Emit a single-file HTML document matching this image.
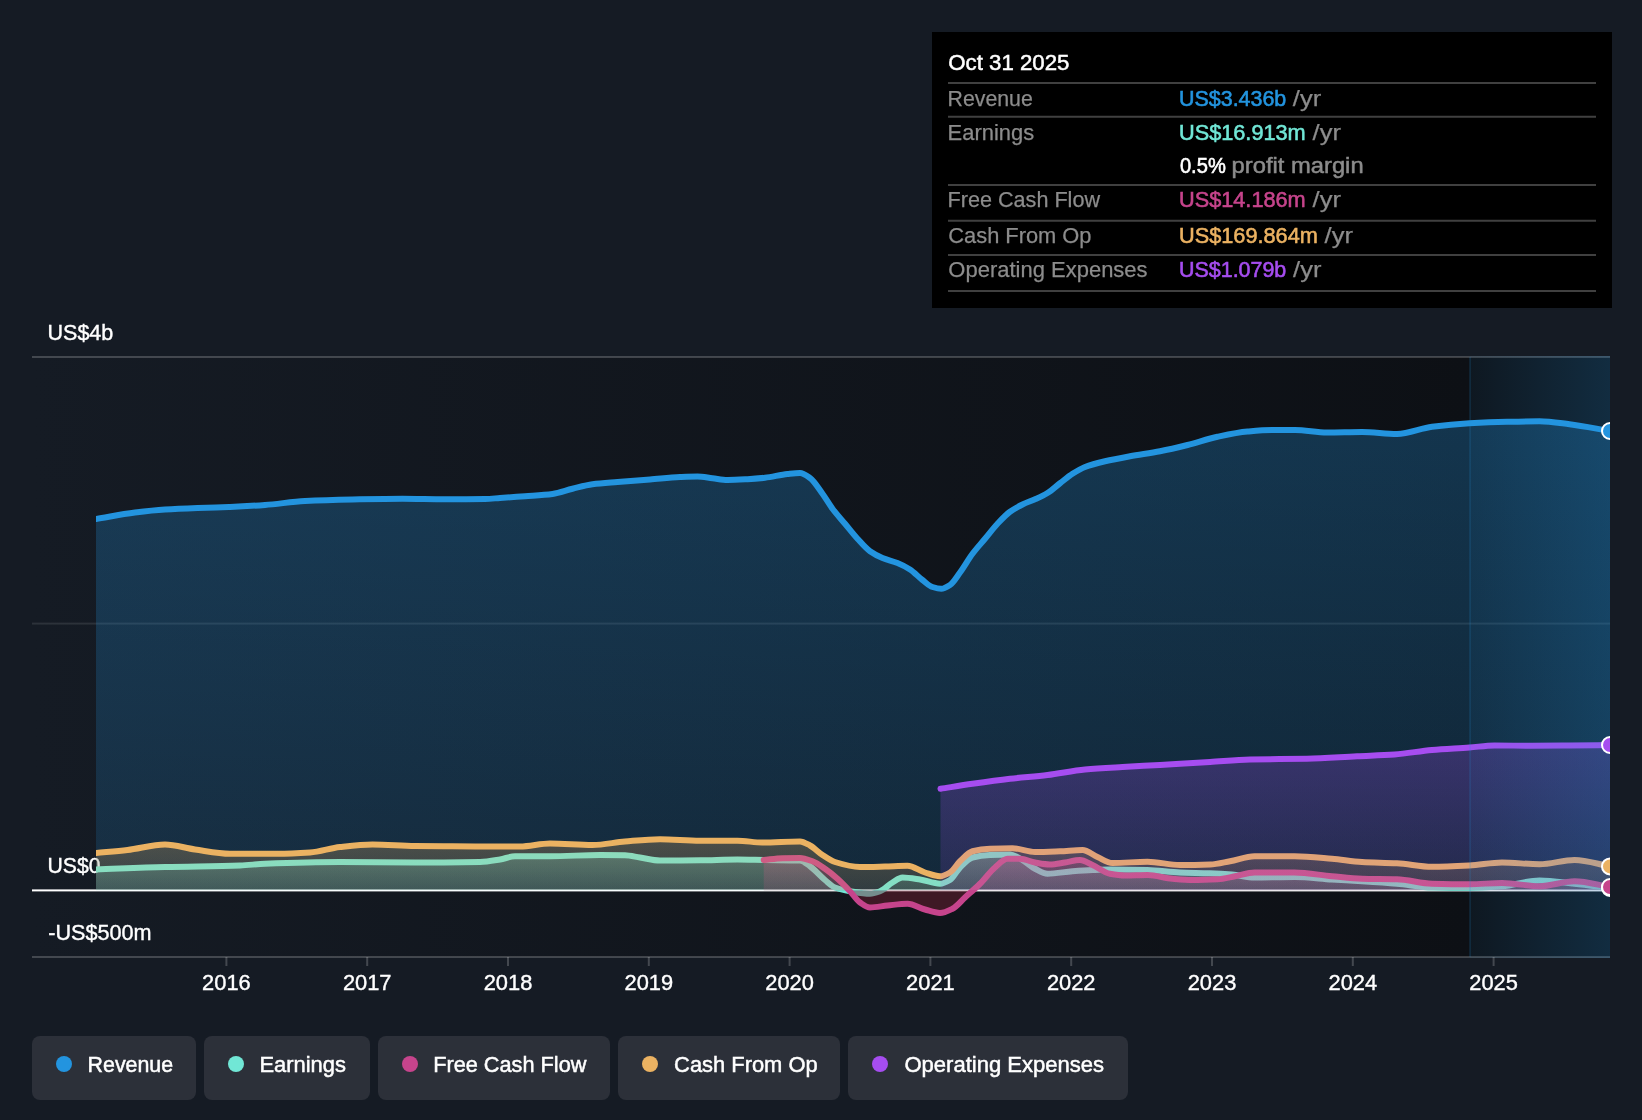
<!DOCTYPE html>
<html lang="en"><head><meta charset="utf-8"><title>Earnings and Revenue History</title>
<style>html,body{margin:0;padding:0;background:#151b24;}body{width:1642px;height:1120px;overflow:hidden}svg{transform:translateZ(0);will-change:transform}svg text{font-family:"Liberation Sans",sans-serif}</style>
</head><body>
<svg width="1642" height="1120" viewBox="0 0 1642 1120" style="display:block">
<defs>
<linearGradient id="bgd" x1="32" x2="1470" y1="0" y2="0" gradientUnits="userSpaceOnUse"><stop offset="0" stop-color="#151b24"/><stop offset="1" stop-color="#0d1015"/></linearGradient>
<linearGradient id="hl" x1="1470" x2="1610" y1="0" y2="0" gradientUnits="userSpaceOnUse"><stop offset="0" stop-color="#2394DF" stop-opacity="0.06"/><stop offset="1" stop-color="#2394DF" stop-opacity="0.215"/></linearGradient>
<linearGradient id="grev" x1="0" x2="0" y1="420" y2="890" gradientUnits="userSpaceOnUse"><stop offset="0" stop-color="#2394DF" stop-opacity="0.28"/><stop offset="1" stop-color="#2394DF" stop-opacity="0.16"/></linearGradient>
<linearGradient id="gopx" x1="0" x2="0" y1="745" y2="890" gradientUnits="userSpaceOnUse"><stop offset="0" stop-color="#A64DF0" stop-opacity="0.26"/><stop offset="1" stop-color="#A64DF0" stop-opacity="0.12"/></linearGradient>
<linearGradient id="gcfo" x1="0" x2="0" y1="840" y2="890" gradientUnits="userSpaceOnUse"><stop offset="0" stop-color="#EBB262" stop-opacity="0.26"/><stop offset="1" stop-color="#EBB262" stop-opacity="0.14"/></linearGradient>
<linearGradient id="gern" x1="0" x2="0" y1="855" y2="890" gradientUnits="userSpaceOnUse"><stop offset="0" stop-color="#71E7D6" stop-opacity="0.30"/><stop offset="1" stop-color="#71E7D6" stop-opacity="0.16"/></linearGradient>
<linearGradient id="gfcf" x1="0" x2="0" y1="858" y2="890" gradientUnits="userSpaceOnUse"><stop offset="0" stop-color="#C6448C" stop-opacity="0.30"/><stop offset="1" stop-color="#C6448C" stop-opacity="0.16"/></linearGradient>
<clipPath id="plot"><rect x="96" y="340" width="1514" height="640"/></clipPath>
<clipPath id="above"><rect x="32" y="340" width="1578" height="550.3"/></clipPath>
<clipPath id="below"><rect x="32" y="890.3" width="1578" height="80"/></clipPath>
</defs>
<rect width="1642" height="1120" fill="#151b24"/>
<g>
<rect x="32" y="357" width="1578" height="600" fill="url(#bgd)"/>
<rect x="32" y="356" width="1578" height="2" fill="#ffffff" fill-opacity="0.2"/>
<rect x="32" y="622.6" width="1578" height="2" fill="#ffffff" fill-opacity="0.1"/>
<rect x="32" y="956" width="1578" height="2" fill="#ffffff" fill-opacity="0.2"/>
<g font-size="22.7">
<text x="47.50" y="340" fill="#fff" textLength="65.8" lengthAdjust="spacingAndGlyphs" stroke="#fff" stroke-width="0.4">US$4b</text>
<text x="47.50" y="872.8" fill="#fff" textLength="53.0" lengthAdjust="spacingAndGlyphs" stroke="#fff" stroke-width="0.4">US$0</text>
<text x="48.20" y="940" fill="#fff" textLength="103.4" lengthAdjust="spacingAndGlyphs" stroke="#fff" stroke-width="0.4">-US$500m</text>
</g>
<rect x="32" y="889.4" width="1578" height="2" fill="#fff"/>
<g clip-path="url(#plot)" fill="none" stroke-width="6" stroke-linejoin="round" stroke-linecap="round">
<path d="M96.00,519.00C109.00,516.83 122.00,514.11 135.00,512.50C145.00,511.26 155.00,510.13 165.00,509.50C175.83,508.81 186.67,508.40 197.50,508.00C208.33,507.60 219.17,507.43 230.00,507.00C241.67,506.54 253.33,505.84 265.00,505.00C278.33,504.04 291.67,501.65 305.00,501.00C320.83,500.23 336.67,499.82 352.50,499.50C369.17,499.16 385.83,498.75 402.50,498.75C416.67,498.75 430.83,499.25 445.00,499.25C458.33,499.25 471.67,499.17 485.00,499.00C490.00,498.93 495.00,498.34 500.00,498.00C508.33,497.43 516.67,496.88 525.00,496.25C534.17,495.56 543.33,495.18 552.50,494.00C559.17,493.14 565.83,490.37 572.50,488.75C579.17,487.13 585.83,485.12 592.50,484.25C600.83,483.16 609.17,482.69 617.50,482.00C628.33,481.10 639.17,480.37 650.00,479.50C660.00,478.70 670.00,477.41 680.00,477.00C685.83,476.76 691.67,476.50 697.50,476.50C702.50,476.50 707.50,477.67 712.50,478.25C717.50,478.83 722.50,480.00 727.50,480.00C734.17,480.00 740.83,479.60 747.50,479.25C753.33,478.94 759.17,478.40 765.00,477.75C772.50,476.91 780.00,474.78 787.50,474.00C791.67,473.56 795.83,473.00 800.00,473.00C803.33,473.00 806.67,475.65 810.00,478.00C814.17,480.94 818.33,488.03 822.50,493.75C825.83,498.33 829.17,504.29 832.50,508.75C836.67,514.33 840.83,518.75 845.00,523.75C849.17,528.75 853.33,534.20 857.50,538.75C861.67,543.30 865.83,548.33 870.00,551.25C874.17,554.17 878.33,556.27 882.50,558.00C887.50,560.08 892.50,560.96 897.50,563.00C901.67,564.70 905.83,566.82 910.00,569.50C914.17,572.18 918.33,576.83 922.50,580.00C925.83,582.54 929.17,585.98 932.50,587.00C935.42,587.90 938.33,588.75 941.25,588.75C944.17,588.75 947.08,586.84 950.00,585.00C953.33,582.90 956.67,577.03 960.00,572.50C964.17,566.84 968.33,559.31 972.50,553.75C976.67,548.19 980.83,543.75 985.00,538.75C989.17,533.75 993.33,528.19 997.50,523.75C1001.67,519.31 1005.83,514.76 1010.00,511.75C1014.17,508.74 1018.33,506.53 1022.50,504.50C1026.67,502.47 1030.83,501.15 1035.00,499.25C1039.17,497.35 1043.33,495.54 1047.50,493.00C1051.67,490.46 1055.83,486.46 1060.00,483.25C1064.17,480.04 1068.33,476.38 1072.50,473.75C1076.67,471.12 1080.83,468.60 1085.00,467.00C1091.67,464.44 1098.33,462.83 1105.00,461.25C1113.33,459.27 1121.67,457.77 1130.00,456.25C1140.00,454.43 1150.00,453.18 1160.00,451.25C1169.17,449.48 1178.33,447.28 1187.50,445.00C1197.50,442.51 1207.50,438.89 1217.50,436.75C1227.50,434.61 1237.50,432.38 1247.50,431.50C1255.83,430.77 1264.17,430.00 1272.50,430.00C1280.00,430.00 1287.50,430.00 1295.00,430.00C1305.67,430.00 1316.33,432.50 1327.00,432.50C1338.67,432.50 1350.33,432.00 1362.00,432.00C1373.67,432.00 1385.33,434.00 1397.00,434.00C1408.67,434.00 1420.33,428.26 1432.00,426.75C1444.50,425.13 1457.00,423.95 1469.50,423.25C1482.00,422.55 1494.50,422.02 1507.00,421.75C1517.83,421.51 1528.67,421.25 1539.50,421.25C1549.50,421.25 1559.50,423.02 1569.50,424.25C1583.00,425.92 1596.50,428.75 1610.00,431.00L1610.00,890.3L96.00,890.3Z" fill="url(#grev)" stroke="none" clip-path="url(#above)"/>
<path d="M96.00,519.00C109.00,516.83 122.00,514.11 135.00,512.50C145.00,511.26 155.00,510.13 165.00,509.50C175.83,508.81 186.67,508.40 197.50,508.00C208.33,507.60 219.17,507.43 230.00,507.00C241.67,506.54 253.33,505.84 265.00,505.00C278.33,504.04 291.67,501.65 305.00,501.00C320.83,500.23 336.67,499.82 352.50,499.50C369.17,499.16 385.83,498.75 402.50,498.75C416.67,498.75 430.83,499.25 445.00,499.25C458.33,499.25 471.67,499.17 485.00,499.00C490.00,498.93 495.00,498.34 500.00,498.00C508.33,497.43 516.67,496.88 525.00,496.25C534.17,495.56 543.33,495.18 552.50,494.00C559.17,493.14 565.83,490.37 572.50,488.75C579.17,487.13 585.83,485.12 592.50,484.25C600.83,483.16 609.17,482.69 617.50,482.00C628.33,481.10 639.17,480.37 650.00,479.50C660.00,478.70 670.00,477.41 680.00,477.00C685.83,476.76 691.67,476.50 697.50,476.50C702.50,476.50 707.50,477.67 712.50,478.25C717.50,478.83 722.50,480.00 727.50,480.00C734.17,480.00 740.83,479.60 747.50,479.25C753.33,478.94 759.17,478.40 765.00,477.75C772.50,476.91 780.00,474.78 787.50,474.00C791.67,473.56 795.83,473.00 800.00,473.00C803.33,473.00 806.67,475.65 810.00,478.00C814.17,480.94 818.33,488.03 822.50,493.75C825.83,498.33 829.17,504.29 832.50,508.75C836.67,514.33 840.83,518.75 845.00,523.75C849.17,528.75 853.33,534.20 857.50,538.75C861.67,543.30 865.83,548.33 870.00,551.25C874.17,554.17 878.33,556.27 882.50,558.00C887.50,560.08 892.50,560.96 897.50,563.00C901.67,564.70 905.83,566.82 910.00,569.50C914.17,572.18 918.33,576.83 922.50,580.00C925.83,582.54 929.17,585.98 932.50,587.00C935.42,587.90 938.33,588.75 941.25,588.75C944.17,588.75 947.08,586.84 950.00,585.00C953.33,582.90 956.67,577.03 960.00,572.50C964.17,566.84 968.33,559.31 972.50,553.75C976.67,548.19 980.83,543.75 985.00,538.75C989.17,533.75 993.33,528.19 997.50,523.75C1001.67,519.31 1005.83,514.76 1010.00,511.75C1014.17,508.74 1018.33,506.53 1022.50,504.50C1026.67,502.47 1030.83,501.15 1035.00,499.25C1039.17,497.35 1043.33,495.54 1047.50,493.00C1051.67,490.46 1055.83,486.46 1060.00,483.25C1064.17,480.04 1068.33,476.38 1072.50,473.75C1076.67,471.12 1080.83,468.60 1085.00,467.00C1091.67,464.44 1098.33,462.83 1105.00,461.25C1113.33,459.27 1121.67,457.77 1130.00,456.25C1140.00,454.43 1150.00,453.18 1160.00,451.25C1169.17,449.48 1178.33,447.28 1187.50,445.00C1197.50,442.51 1207.50,438.89 1217.50,436.75C1227.50,434.61 1237.50,432.38 1247.50,431.50C1255.83,430.77 1264.17,430.00 1272.50,430.00C1280.00,430.00 1287.50,430.00 1295.00,430.00C1305.67,430.00 1316.33,432.50 1327.00,432.50C1338.67,432.50 1350.33,432.00 1362.00,432.00C1373.67,432.00 1385.33,434.00 1397.00,434.00C1408.67,434.00 1420.33,428.26 1432.00,426.75C1444.50,425.13 1457.00,423.95 1469.50,423.25C1482.00,422.55 1494.50,422.02 1507.00,421.75C1517.83,421.51 1528.67,421.25 1539.50,421.25C1549.50,421.25 1559.50,423.02 1569.50,424.25C1583.00,425.92 1596.50,428.75 1610.00,431.00" stroke="#2394DF"/>
<path d="M96.00,869.50C119.00,868.67 142.00,867.60 165.00,867.00C190.00,866.35 215.00,866.36 240.00,865.50C248.33,865.21 256.67,864.07 265.00,863.75C290.00,862.80 315.00,862.00 340.00,862.00C365.00,862.00 390.00,862.50 415.00,862.50C436.67,862.50 458.33,862.37 480.00,862.00C486.67,861.89 493.33,860.57 500.00,859.50C505.00,858.70 510.00,856.25 515.00,856.25C526.67,856.25 538.33,856.25 550.00,856.25C566.67,856.25 583.33,855.00 600.00,855.00C608.33,855.00 616.67,855.08 625.00,855.25C630.00,855.35 635.00,856.75 640.00,857.50C646.67,858.50 653.33,860.50 660.00,860.50C673.33,860.50 686.67,860.38 700.00,860.25C712.50,860.13 725.00,859.50 737.50,859.50C746.67,859.50 755.83,859.85 765.00,860.00C776.67,860.19 788.33,860.11 800.00,860.50C803.33,860.61 806.67,863.93 810.00,866.25C815.00,869.73 820.00,875.90 825.00,880.00C828.33,882.73 831.67,886.21 835.00,887.50C840.00,889.44 845.00,890.40 850.00,891.25C856.67,892.38 863.33,893.75 870.00,893.75C873.33,893.75 876.67,892.46 880.00,891.25C884.17,889.74 888.33,884.92 892.50,882.50C895.83,880.57 899.17,877.50 902.50,877.50C908.33,877.50 914.17,878.64 920.00,879.50C926.67,880.48 933.33,883.75 940.00,883.75C943.33,883.75 946.67,881.92 950.00,880.00C953.33,878.08 956.67,870.78 960.00,867.50C964.17,863.40 968.33,858.55 972.50,857.50C978.33,856.03 984.17,855.25 990.00,855.00C996.67,854.71 1003.33,854.50 1010.00,854.50C1014.17,854.50 1018.33,857.75 1022.50,860.00C1026.67,862.25 1030.83,866.63 1035.00,868.75C1039.17,870.87 1043.33,873.75 1047.50,873.75C1055.83,873.75 1064.17,871.89 1072.50,871.25C1079.17,870.74 1085.83,870.26 1092.50,870.00C1098.33,869.77 1104.17,869.50 1110.00,869.50C1122.50,869.50 1135.00,869.71 1147.50,870.00C1158.33,870.25 1169.17,872.09 1180.00,872.50C1190.00,872.87 1200.00,872.90 1210.00,873.25C1217.33,873.51 1224.67,873.92 1232.00,874.50C1239.50,875.10 1247.00,877.50 1254.50,877.50C1267.83,877.50 1281.17,877.00 1294.50,877.00C1307.00,877.00 1319.50,878.72 1332.00,879.50C1342.00,880.12 1352.00,880.61 1362.00,881.25C1373.67,882.00 1385.33,882.75 1397.00,883.75C1408.67,884.75 1420.33,887.22 1432.00,887.50C1444.50,887.80 1457.00,888.00 1469.50,888.00C1480.33,888.00 1491.17,887.10 1502.00,886.25C1514.50,885.26 1527.00,880.50 1539.50,880.50C1551.17,880.50 1562.83,882.53 1574.50,883.75C1586.33,884.99 1598.17,886.58 1610.00,888.00L1610.00,890.3L96.00,890.3Z" fill="url(#gern)" stroke="none" clip-path="url(#above)"/>
<path d="M96.00,869.50C119.00,868.67 142.00,867.60 165.00,867.00C190.00,866.35 215.00,866.36 240.00,865.50C248.33,865.21 256.67,864.07 265.00,863.75C290.00,862.80 315.00,862.00 340.00,862.00C365.00,862.00 390.00,862.50 415.00,862.50C436.67,862.50 458.33,862.37 480.00,862.00C486.67,861.89 493.33,860.57 500.00,859.50C505.00,858.70 510.00,856.25 515.00,856.25C526.67,856.25 538.33,856.25 550.00,856.25C566.67,856.25 583.33,855.00 600.00,855.00C608.33,855.00 616.67,855.08 625.00,855.25C630.00,855.35 635.00,856.75 640.00,857.50C646.67,858.50 653.33,860.50 660.00,860.50C673.33,860.50 686.67,860.38 700.00,860.25C712.50,860.13 725.00,859.50 737.50,859.50C746.67,859.50 755.83,859.85 765.00,860.00C776.67,860.19 788.33,860.11 800.00,860.50C803.33,860.61 806.67,863.93 810.00,866.25C815.00,869.73 820.00,875.90 825.00,880.00C828.33,882.73 831.67,886.21 835.00,887.50C840.00,889.44 845.00,890.40 850.00,891.25C856.67,892.38 863.33,893.75 870.00,893.75C873.33,893.75 876.67,892.46 880.00,891.25C884.17,889.74 888.33,884.92 892.50,882.50C895.83,880.57 899.17,877.50 902.50,877.50C908.33,877.50 914.17,878.64 920.00,879.50C926.67,880.48 933.33,883.75 940.00,883.75C943.33,883.75 946.67,881.92 950.00,880.00C953.33,878.08 956.67,870.78 960.00,867.50C964.17,863.40 968.33,858.55 972.50,857.50C978.33,856.03 984.17,855.25 990.00,855.00C996.67,854.71 1003.33,854.50 1010.00,854.50C1014.17,854.50 1018.33,857.75 1022.50,860.00C1026.67,862.25 1030.83,866.63 1035.00,868.75C1039.17,870.87 1043.33,873.75 1047.50,873.75C1055.83,873.75 1064.17,871.89 1072.50,871.25C1079.17,870.74 1085.83,870.26 1092.50,870.00C1098.33,869.77 1104.17,869.50 1110.00,869.50C1122.50,869.50 1135.00,869.71 1147.50,870.00C1158.33,870.25 1169.17,872.09 1180.00,872.50C1190.00,872.87 1200.00,872.90 1210.00,873.25C1217.33,873.51 1224.67,873.92 1232.00,874.50C1239.50,875.10 1247.00,877.50 1254.50,877.50C1267.83,877.50 1281.17,877.00 1294.50,877.00C1307.00,877.00 1319.50,878.72 1332.00,879.50C1342.00,880.12 1352.00,880.61 1362.00,881.25C1373.67,882.00 1385.33,882.75 1397.00,883.75C1408.67,884.75 1420.33,887.22 1432.00,887.50C1444.50,887.80 1457.00,888.00 1469.50,888.00C1480.33,888.00 1491.17,887.10 1502.00,886.25C1514.50,885.26 1527.00,880.50 1539.50,880.50C1551.17,880.50 1562.83,882.53 1574.50,883.75C1586.33,884.99 1598.17,886.58 1610.00,888.00L1610.00,890.3L96.00,890.3Z" fill="rgba(113,231,214,0.2)" stroke="none" clip-path="url(#below)"/>
<path d="M96.00,869.50C119.00,868.67 142.00,867.60 165.00,867.00C190.00,866.35 215.00,866.36 240.00,865.50C248.33,865.21 256.67,864.07 265.00,863.75C290.00,862.80 315.00,862.00 340.00,862.00C365.00,862.00 390.00,862.50 415.00,862.50C436.67,862.50 458.33,862.37 480.00,862.00C486.67,861.89 493.33,860.57 500.00,859.50C505.00,858.70 510.00,856.25 515.00,856.25C526.67,856.25 538.33,856.25 550.00,856.25C566.67,856.25 583.33,855.00 600.00,855.00C608.33,855.00 616.67,855.08 625.00,855.25C630.00,855.35 635.00,856.75 640.00,857.50C646.67,858.50 653.33,860.50 660.00,860.50C673.33,860.50 686.67,860.38 700.00,860.25C712.50,860.13 725.00,859.50 737.50,859.50C746.67,859.50 755.83,859.85 765.00,860.00C776.67,860.19 788.33,860.11 800.00,860.50C803.33,860.61 806.67,863.93 810.00,866.25C815.00,869.73 820.00,875.90 825.00,880.00C828.33,882.73 831.67,886.21 835.00,887.50C840.00,889.44 845.00,890.40 850.00,891.25C856.67,892.38 863.33,893.75 870.00,893.75C873.33,893.75 876.67,892.46 880.00,891.25C884.17,889.74 888.33,884.92 892.50,882.50C895.83,880.57 899.17,877.50 902.50,877.50C908.33,877.50 914.17,878.64 920.00,879.50C926.67,880.48 933.33,883.75 940.00,883.75C943.33,883.75 946.67,881.92 950.00,880.00C953.33,878.08 956.67,870.78 960.00,867.50C964.17,863.40 968.33,858.55 972.50,857.50C978.33,856.03 984.17,855.25 990.00,855.00C996.67,854.71 1003.33,854.50 1010.00,854.50C1014.17,854.50 1018.33,857.75 1022.50,860.00C1026.67,862.25 1030.83,866.63 1035.00,868.75C1039.17,870.87 1043.33,873.75 1047.50,873.75C1055.83,873.75 1064.17,871.89 1072.50,871.25C1079.17,870.74 1085.83,870.26 1092.50,870.00C1098.33,869.77 1104.17,869.50 1110.00,869.50C1122.50,869.50 1135.00,869.71 1147.50,870.00C1158.33,870.25 1169.17,872.09 1180.00,872.50C1190.00,872.87 1200.00,872.90 1210.00,873.25C1217.33,873.51 1224.67,873.92 1232.00,874.50C1239.50,875.10 1247.00,877.50 1254.50,877.50C1267.83,877.50 1281.17,877.00 1294.50,877.00C1307.00,877.00 1319.50,878.72 1332.00,879.50C1342.00,880.12 1352.00,880.61 1362.00,881.25C1373.67,882.00 1385.33,882.75 1397.00,883.75C1408.67,884.75 1420.33,887.22 1432.00,887.50C1444.50,887.80 1457.00,888.00 1469.50,888.00C1480.33,888.00 1491.17,887.10 1502.00,886.25C1514.50,885.26 1527.00,880.50 1539.50,880.50C1551.17,880.50 1562.83,882.53 1574.50,883.75C1586.33,884.99 1598.17,886.58 1610.00,888.00" stroke="#71E7D6"/>
<path d="M763.75,860.00C770.00,859.42 776.25,858.40 782.50,858.25C788.33,858.11 794.17,858.00 800.00,858.00C804.17,858.00 808.33,859.74 812.50,861.25C816.67,862.76 820.83,865.89 825.00,868.75C829.17,871.61 833.33,875.05 837.50,878.75C841.67,882.45 845.83,886.83 850.00,891.25C853.33,894.79 856.67,900.19 860.00,902.50C863.33,904.81 866.67,907.50 870.00,907.50C875.83,907.50 881.67,906.08 887.50,905.50C894.17,904.84 900.83,903.75 907.50,903.75C913.33,903.75 919.17,907.92 925.00,909.50C930.00,910.86 935.00,913.00 940.00,913.00C944.17,913.00 948.33,910.81 952.50,908.75C956.67,906.69 960.83,901.28 965.00,897.50C970.00,892.96 975.00,888.72 980.00,883.75C985.00,878.78 990.00,871.72 995.00,867.50C999.17,863.98 1003.33,858.75 1007.50,858.75C1011.67,858.75 1015.83,858.75 1020.00,858.75C1025.00,858.75 1030.00,861.63 1035.00,862.50C1040.00,863.37 1045.00,864.50 1050.00,864.50C1055.00,864.50 1060.00,863.24 1065.00,862.50C1070.00,861.76 1075.00,860.00 1080.00,860.00C1084.17,860.00 1088.33,863.16 1092.50,865.00C1098.33,867.58 1104.17,872.66 1110.00,873.75C1115.00,874.68 1120.00,875.50 1125.00,875.50C1132.50,875.50 1140.00,875.00 1147.50,875.00C1155.83,875.00 1164.17,878.03 1172.50,878.75C1179.17,879.33 1185.83,880.00 1192.50,880.00C1200.83,880.00 1209.17,879.69 1217.50,879.25C1223.33,878.94 1229.17,877.31 1235.00,876.25C1241.50,875.07 1248.00,872.50 1254.50,872.50C1267.83,872.50 1281.17,872.50 1294.50,872.50C1307.00,872.50 1319.50,875.12 1332.00,876.25C1342.00,877.16 1352.00,878.50 1362.00,878.75C1373.67,879.04 1385.33,878.95 1397.00,879.25C1408.67,879.55 1420.33,883.47 1432.00,883.75C1444.50,884.05 1457.00,884.25 1469.50,884.25C1480.33,884.25 1491.17,883.00 1502.00,883.00C1514.50,883.00 1527.00,886.25 1539.50,886.25C1551.17,886.25 1562.83,881.25 1574.50,881.25C1586.33,881.25 1598.17,885.08 1610.00,887.00L1610.00,890.3L763.75,890.3Z" fill="url(#gfcf)" stroke="none" clip-path="url(#above)"/>
<path d="M763.75,860.00C770.00,859.42 776.25,858.40 782.50,858.25C788.33,858.11 794.17,858.00 800.00,858.00C804.17,858.00 808.33,859.74 812.50,861.25C816.67,862.76 820.83,865.89 825.00,868.75C829.17,871.61 833.33,875.05 837.50,878.75C841.67,882.45 845.83,886.83 850.00,891.25C853.33,894.79 856.67,900.19 860.00,902.50C863.33,904.81 866.67,907.50 870.00,907.50C875.83,907.50 881.67,906.08 887.50,905.50C894.17,904.84 900.83,903.75 907.50,903.75C913.33,903.75 919.17,907.92 925.00,909.50C930.00,910.86 935.00,913.00 940.00,913.00C944.17,913.00 948.33,910.81 952.50,908.75C956.67,906.69 960.83,901.28 965.00,897.50C970.00,892.96 975.00,888.72 980.00,883.75C985.00,878.78 990.00,871.72 995.00,867.50C999.17,863.98 1003.33,858.75 1007.50,858.75C1011.67,858.75 1015.83,858.75 1020.00,858.75C1025.00,858.75 1030.00,861.63 1035.00,862.50C1040.00,863.37 1045.00,864.50 1050.00,864.50C1055.00,864.50 1060.00,863.24 1065.00,862.50C1070.00,861.76 1075.00,860.00 1080.00,860.00C1084.17,860.00 1088.33,863.16 1092.50,865.00C1098.33,867.58 1104.17,872.66 1110.00,873.75C1115.00,874.68 1120.00,875.50 1125.00,875.50C1132.50,875.50 1140.00,875.00 1147.50,875.00C1155.83,875.00 1164.17,878.03 1172.50,878.75C1179.17,879.33 1185.83,880.00 1192.50,880.00C1200.83,880.00 1209.17,879.69 1217.50,879.25C1223.33,878.94 1229.17,877.31 1235.00,876.25C1241.50,875.07 1248.00,872.50 1254.50,872.50C1267.83,872.50 1281.17,872.50 1294.50,872.50C1307.00,872.50 1319.50,875.12 1332.00,876.25C1342.00,877.16 1352.00,878.50 1362.00,878.75C1373.67,879.04 1385.33,878.95 1397.00,879.25C1408.67,879.55 1420.33,883.47 1432.00,883.75C1444.50,884.05 1457.00,884.25 1469.50,884.25C1480.33,884.25 1491.17,883.00 1502.00,883.00C1514.50,883.00 1527.00,886.25 1539.50,886.25C1551.17,886.25 1562.83,881.25 1574.50,881.25C1586.33,881.25 1598.17,885.08 1610.00,887.00L1610.00,890.3L763.75,890.3Z" fill="rgba(120,30,50,0.45)" stroke="none" clip-path="url(#below)"/>
<path d="M763.75,860.00C770.00,859.42 776.25,858.40 782.50,858.25C788.33,858.11 794.17,858.00 800.00,858.00C804.17,858.00 808.33,859.74 812.50,861.25C816.67,862.76 820.83,865.89 825.00,868.75C829.17,871.61 833.33,875.05 837.50,878.75C841.67,882.45 845.83,886.83 850.00,891.25C853.33,894.79 856.67,900.19 860.00,902.50C863.33,904.81 866.67,907.50 870.00,907.50C875.83,907.50 881.67,906.08 887.50,905.50C894.17,904.84 900.83,903.75 907.50,903.75C913.33,903.75 919.17,907.92 925.00,909.50C930.00,910.86 935.00,913.00 940.00,913.00C944.17,913.00 948.33,910.81 952.50,908.75C956.67,906.69 960.83,901.28 965.00,897.50C970.00,892.96 975.00,888.72 980.00,883.75C985.00,878.78 990.00,871.72 995.00,867.50C999.17,863.98 1003.33,858.75 1007.50,858.75C1011.67,858.75 1015.83,858.75 1020.00,858.75C1025.00,858.75 1030.00,861.63 1035.00,862.50C1040.00,863.37 1045.00,864.50 1050.00,864.50C1055.00,864.50 1060.00,863.24 1065.00,862.50C1070.00,861.76 1075.00,860.00 1080.00,860.00C1084.17,860.00 1088.33,863.16 1092.50,865.00C1098.33,867.58 1104.17,872.66 1110.00,873.75C1115.00,874.68 1120.00,875.50 1125.00,875.50C1132.50,875.50 1140.00,875.00 1147.50,875.00C1155.83,875.00 1164.17,878.03 1172.50,878.75C1179.17,879.33 1185.83,880.00 1192.50,880.00C1200.83,880.00 1209.17,879.69 1217.50,879.25C1223.33,878.94 1229.17,877.31 1235.00,876.25C1241.50,875.07 1248.00,872.50 1254.50,872.50C1267.83,872.50 1281.17,872.50 1294.50,872.50C1307.00,872.50 1319.50,875.12 1332.00,876.25C1342.00,877.16 1352.00,878.50 1362.00,878.75C1373.67,879.04 1385.33,878.95 1397.00,879.25C1408.67,879.55 1420.33,883.47 1432.00,883.75C1444.50,884.05 1457.00,884.25 1469.50,884.25C1480.33,884.25 1491.17,883.00 1502.00,883.00C1514.50,883.00 1527.00,886.25 1539.50,886.25C1551.17,886.25 1562.83,881.25 1574.50,881.25C1586.33,881.25 1598.17,885.08 1610.00,887.00" stroke="#C6448C"/>
<path d="M96.00,853.00C106.50,852.00 117.00,851.21 127.50,850.00C140.00,848.57 152.50,844.50 165.00,844.50C175.00,844.50 185.00,848.09 195.00,849.50C206.67,851.15 218.33,853.75 230.00,853.75C245.83,853.75 261.67,853.75 277.50,853.75C288.33,853.75 299.17,853.19 310.00,852.50C320.00,851.86 330.00,848.09 340.00,847.00C350.83,845.82 361.67,844.50 372.50,844.50C386.67,844.50 400.83,845.84 415.00,846.00C427.50,846.14 440.00,846.18 452.50,846.25C468.33,846.34 484.17,846.50 500.00,846.50C506.67,846.50 513.33,846.50 520.00,846.50C530.00,846.50 540.00,843.50 550.00,843.50C564.17,843.50 578.33,845.00 592.50,845.00C603.33,845.00 614.17,842.37 625.00,841.50C636.67,840.56 648.33,839.25 660.00,839.25C673.33,839.25 686.67,840.75 700.00,840.75C712.50,840.75 725.00,840.75 737.50,840.75C745.83,840.75 754.17,842.50 762.50,842.50C775.00,842.50 787.50,841.50 800.00,841.50C803.33,841.50 806.67,843.77 810.00,845.50C814.17,847.66 818.33,852.31 822.50,855.00C826.67,857.69 830.83,860.70 835.00,862.00C843.33,864.59 851.67,867.00 860.00,867.00C868.33,867.00 876.67,866.71 885.00,866.50C892.50,866.31 900.00,865.75 907.50,865.75C913.33,865.75 919.17,870.74 925.00,872.50C930.00,874.01 935.00,876.25 940.00,876.25C943.33,876.25 946.67,874.38 950.00,872.50C953.33,870.62 956.67,864.39 960.00,861.25C964.17,857.33 968.33,852.30 972.50,851.25C978.33,849.78 984.17,848.98 990.00,848.75C997.50,848.45 1005.00,848.25 1012.50,848.25C1020.00,848.25 1027.50,852.00 1035.00,852.00C1043.33,852.00 1051.67,851.58 1060.00,851.25C1067.50,850.96 1075.00,850.00 1082.50,850.00C1087.50,850.00 1092.50,854.85 1097.50,857.00C1102.50,859.15 1107.50,863.00 1112.50,863.00C1124.17,863.00 1135.83,861.75 1147.50,861.75C1158.33,861.75 1169.17,865.00 1180.00,865.00C1190.00,865.00 1200.00,864.82 1210.00,864.50C1216.67,864.29 1223.33,862.45 1230.00,861.25C1238.17,859.78 1246.33,856.25 1254.50,856.25C1267.83,856.25 1281.17,856.25 1294.50,856.25C1307.00,856.25 1319.50,857.71 1332.00,858.75C1342.00,859.58 1352.00,861.46 1362.00,862.00C1373.67,862.63 1385.33,862.64 1397.00,863.25C1408.67,863.86 1420.33,866.75 1432.00,866.75C1444.50,866.75 1457.00,866.12 1469.50,865.50C1480.33,864.96 1491.17,862.50 1502.00,862.50C1514.50,862.50 1527.00,864.25 1539.50,864.25C1551.17,864.25 1562.83,860.00 1574.50,860.00C1586.33,860.00 1598.17,864.27 1610.00,866.40L1610.00,890.3L96.00,890.3Z" fill="url(#gcfo)" stroke="none" clip-path="url(#above)"/>
<path d="M96.00,853.00C106.50,852.00 117.00,851.21 127.50,850.00C140.00,848.57 152.50,844.50 165.00,844.50C175.00,844.50 185.00,848.09 195.00,849.50C206.67,851.15 218.33,853.75 230.00,853.75C245.83,853.75 261.67,853.75 277.50,853.75C288.33,853.75 299.17,853.19 310.00,852.50C320.00,851.86 330.00,848.09 340.00,847.00C350.83,845.82 361.67,844.50 372.50,844.50C386.67,844.50 400.83,845.84 415.00,846.00C427.50,846.14 440.00,846.18 452.50,846.25C468.33,846.34 484.17,846.50 500.00,846.50C506.67,846.50 513.33,846.50 520.00,846.50C530.00,846.50 540.00,843.50 550.00,843.50C564.17,843.50 578.33,845.00 592.50,845.00C603.33,845.00 614.17,842.37 625.00,841.50C636.67,840.56 648.33,839.25 660.00,839.25C673.33,839.25 686.67,840.75 700.00,840.75C712.50,840.75 725.00,840.75 737.50,840.75C745.83,840.75 754.17,842.50 762.50,842.50C775.00,842.50 787.50,841.50 800.00,841.50C803.33,841.50 806.67,843.77 810.00,845.50C814.17,847.66 818.33,852.31 822.50,855.00C826.67,857.69 830.83,860.70 835.00,862.00C843.33,864.59 851.67,867.00 860.00,867.00C868.33,867.00 876.67,866.71 885.00,866.50C892.50,866.31 900.00,865.75 907.50,865.75C913.33,865.75 919.17,870.74 925.00,872.50C930.00,874.01 935.00,876.25 940.00,876.25C943.33,876.25 946.67,874.38 950.00,872.50C953.33,870.62 956.67,864.39 960.00,861.25C964.17,857.33 968.33,852.30 972.50,851.25C978.33,849.78 984.17,848.98 990.00,848.75C997.50,848.45 1005.00,848.25 1012.50,848.25C1020.00,848.25 1027.50,852.00 1035.00,852.00C1043.33,852.00 1051.67,851.58 1060.00,851.25C1067.50,850.96 1075.00,850.00 1082.50,850.00C1087.50,850.00 1092.50,854.85 1097.50,857.00C1102.50,859.15 1107.50,863.00 1112.50,863.00C1124.17,863.00 1135.83,861.75 1147.50,861.75C1158.33,861.75 1169.17,865.00 1180.00,865.00C1190.00,865.00 1200.00,864.82 1210.00,864.50C1216.67,864.29 1223.33,862.45 1230.00,861.25C1238.17,859.78 1246.33,856.25 1254.50,856.25C1267.83,856.25 1281.17,856.25 1294.50,856.25C1307.00,856.25 1319.50,857.71 1332.00,858.75C1342.00,859.58 1352.00,861.46 1362.00,862.00C1373.67,862.63 1385.33,862.64 1397.00,863.25C1408.67,863.86 1420.33,866.75 1432.00,866.75C1444.50,866.75 1457.00,866.12 1469.50,865.50C1480.33,864.96 1491.17,862.50 1502.00,862.50C1514.50,862.50 1527.00,864.25 1539.50,864.25C1551.17,864.25 1562.83,860.00 1574.50,860.00C1586.33,860.00 1598.17,864.27 1610.00,866.40" stroke="#EBB262"/>
<path d="M940.50,788.75C951.17,787.08 961.83,785.29 972.50,783.75C985.00,781.95 997.50,780.18 1010.00,778.75C1022.50,777.32 1035.00,776.49 1047.50,775.00C1060.00,773.51 1072.50,770.65 1085.00,769.50C1097.50,768.35 1110.00,767.74 1122.50,767.00C1135.00,766.26 1147.50,765.70 1160.00,765.00C1176.67,764.06 1193.33,763.02 1210.00,762.00C1223.33,761.18 1236.67,759.80 1250.00,759.50C1269.00,759.07 1288.00,759.15 1307.00,758.75C1323.67,758.40 1340.33,757.05 1357.00,756.25C1369.50,755.65 1382.00,755.34 1394.50,754.50C1407.00,753.66 1419.50,751.07 1432.00,750.00C1444.50,748.93 1457.00,748.41 1469.50,747.50C1477.83,746.89 1486.17,745.50 1494.50,745.50C1507.00,745.50 1519.50,745.75 1532.00,745.75C1544.50,745.75 1557.00,745.61 1569.50,745.50C1583.00,745.38 1596.50,745.17 1610.00,745.00L1610.00,890.3L940.50,890.3Z" fill="url(#gopx)" stroke="none" clip-path="url(#above)"/>
<path d="M940.50,788.75C951.17,787.08 961.83,785.29 972.50,783.75C985.00,781.95 997.50,780.18 1010.00,778.75C1022.50,777.32 1035.00,776.49 1047.50,775.00C1060.00,773.51 1072.50,770.65 1085.00,769.50C1097.50,768.35 1110.00,767.74 1122.50,767.00C1135.00,766.26 1147.50,765.70 1160.00,765.00C1176.67,764.06 1193.33,763.02 1210.00,762.00C1223.33,761.18 1236.67,759.80 1250.00,759.50C1269.00,759.07 1288.00,759.15 1307.00,758.75C1323.67,758.40 1340.33,757.05 1357.00,756.25C1369.50,755.65 1382.00,755.34 1394.50,754.50C1407.00,753.66 1419.50,751.07 1432.00,750.00C1444.50,748.93 1457.00,748.41 1469.50,747.50C1477.83,746.89 1486.17,745.50 1494.50,745.50C1507.00,745.50 1519.50,745.75 1532.00,745.75C1544.50,745.75 1557.00,745.61 1569.50,745.50C1583.00,745.38 1596.50,745.17 1610.00,745.00" stroke="#A64DF0"/>
</g>
<rect x="1470" y="356" width="140" height="602" fill="url(#hl)"/>
<rect x="1469" y="357" width="2" height="600" fill="#2394DF" fill-opacity="0.15"/>
<g clip-path="url(#plot)">
<circle cx="1610" cy="431" r="8" fill="#2394DF" stroke="#fff" stroke-width="2"/>
<circle cx="1610" cy="745" r="8" fill="#A64DF0" stroke="#fff" stroke-width="2"/>
<circle cx="1610" cy="866.4" r="8" fill="#EBB262" stroke="#fff" stroke-width="2"/>
<circle cx="1610" cy="888" r="8" fill="#71E7D6" stroke="#fff" stroke-width="2"/>
<circle cx="1610" cy="887" r="8" fill="#C6448C" stroke="#fff" stroke-width="2"/>
</g>
<g font-size="22.7" text-anchor="middle" fill="#fff">
<rect x="225.4" y="957" width="2" height="9" fill="#fff" fill-opacity="0.2"/>
<text x="226.4" y="990" textLength="48.6" lengthAdjust="spacingAndGlyphs" stroke="#fff" stroke-width="0.4">2016</text>
<rect x="366.2" y="957" width="2" height="9" fill="#fff" fill-opacity="0.2"/>
<text x="367.2" y="990" textLength="48.6" lengthAdjust="spacingAndGlyphs" stroke="#fff" stroke-width="0.4">2017</text>
<rect x="507.0" y="957" width="2" height="9" fill="#fff" fill-opacity="0.2"/>
<text x="508.0" y="990" textLength="48.6" lengthAdjust="spacingAndGlyphs" stroke="#fff" stroke-width="0.4">2018</text>
<rect x="647.8" y="957" width="2" height="9" fill="#fff" fill-opacity="0.2"/>
<text x="648.8" y="990" textLength="48.6" lengthAdjust="spacingAndGlyphs" stroke="#fff" stroke-width="0.4">2019</text>
<rect x="788.6" y="957" width="2" height="9" fill="#fff" fill-opacity="0.2"/>
<text x="789.6" y="990" textLength="48.6" lengthAdjust="spacingAndGlyphs" stroke="#fff" stroke-width="0.4">2020</text>
<rect x="929.4" y="957" width="2" height="9" fill="#fff" fill-opacity="0.2"/>
<text x="930.4" y="990" textLength="48.6" lengthAdjust="spacingAndGlyphs" stroke="#fff" stroke-width="0.4">2021</text>
<rect x="1070.2" y="957" width="2" height="9" fill="#fff" fill-opacity="0.2"/>
<text x="1071.2" y="990" textLength="48.6" lengthAdjust="spacingAndGlyphs" stroke="#fff" stroke-width="0.4">2022</text>
<rect x="1211.0" y="957" width="2" height="9" fill="#fff" fill-opacity="0.2"/>
<text x="1212.0" y="990" textLength="48.6" lengthAdjust="spacingAndGlyphs" stroke="#fff" stroke-width="0.4">2023</text>
<rect x="1351.8" y="957" width="2" height="9" fill="#fff" fill-opacity="0.2"/>
<text x="1352.8" y="990" textLength="48.6" lengthAdjust="spacingAndGlyphs" stroke="#fff" stroke-width="0.4">2024</text>
<rect x="1492.6" y="957" width="2" height="9" fill="#fff" fill-opacity="0.2"/>
<text x="1493.6" y="990" textLength="48.6" lengthAdjust="spacingAndGlyphs" stroke="#fff" stroke-width="0.4">2025</text>
</g>
<rect x="932" y="32" width="680" height="276" fill="#000"/>
<rect x="948" y="82" width="648" height="2" fill="#fff" fill-opacity="0.25"/>
<rect x="948" y="115.75" width="648" height="2" fill="#fff" fill-opacity="0.25"/>
<rect x="948" y="184" width="648" height="2" fill="#fff" fill-opacity="0.25"/>
<rect x="948" y="219.75" width="648" height="2" fill="#fff" fill-opacity="0.25"/>
<rect x="948" y="254" width="648" height="2" fill="#fff" fill-opacity="0.25"/>
<rect x="948" y="290" width="648" height="2" fill="#fff" fill-opacity="0.25"/>
<g font-size="22.7">
<text x="948.30" y="69.5" fill="#fff" textLength="121.1" lengthAdjust="spacingAndGlyphs" stroke="#fff" stroke-width="0.5">Oct 31 2025</text>
<text x="947.60" y="105.75" fill="#8c8c8c" textLength="85.2" lengthAdjust="spacingAndGlyphs" stroke="#8c8c8c" stroke-width="0.25">Revenue</text>
<text x="1179.00" y="105.75" fill="#2394DF" textLength="107.3" lengthAdjust="spacingAndGlyphs" stroke="#2394DF" stroke-width="0.6">US$3.436b</text>
<text x="1292.85" y="105.75" fill="#8c8c8c" textLength="28.3" lengthAdjust="spacingAndGlyphs" stroke="#8c8c8c" stroke-width="0.25">/yr</text>
<text x="947.60" y="139.5" fill="#8c8c8c" textLength="86.5" lengthAdjust="spacingAndGlyphs" stroke="#8c8c8c" stroke-width="0.25">Earnings</text>
<text x="1179.00" y="139.5" fill="#71E7D6" textLength="126.7" lengthAdjust="spacingAndGlyphs" stroke="#71E7D6" stroke-width="0.6">US$16.913m</text>
<text x="1312.60" y="139.5" fill="#8c8c8c" textLength="28.3" lengthAdjust="spacingAndGlyphs" stroke="#8c8c8c" stroke-width="0.25">/yr</text>
<text x="947.60" y="207" fill="#8c8c8c" textLength="152.4" lengthAdjust="spacingAndGlyphs" stroke="#8c8c8c" stroke-width="0.25">Free Cash Flow</text>
<text x="1179.00" y="207" fill="#C6448C" textLength="126.7" lengthAdjust="spacingAndGlyphs" stroke="#C6448C" stroke-width="0.6">US$14.186m</text>
<text x="1312.60" y="207" fill="#8c8c8c" textLength="28.3" lengthAdjust="spacingAndGlyphs" stroke="#8c8c8c" stroke-width="0.25">/yr</text>
<text x="948.30" y="242.5" fill="#8c8c8c" textLength="143.2" lengthAdjust="spacingAndGlyphs" stroke="#8c8c8c" stroke-width="0.25">Cash From Op</text>
<text x="1179.00" y="242.5" fill="#EBB262" textLength="138.8" lengthAdjust="spacingAndGlyphs" stroke="#EBB262" stroke-width="0.6">US$169.864m</text>
<text x="1324.60" y="242.5" fill="#8c8c8c" textLength="28.3" lengthAdjust="spacingAndGlyphs" stroke="#8c8c8c" stroke-width="0.25">/yr</text>
<text x="948.35" y="277" fill="#8c8c8c" textLength="199.25" lengthAdjust="spacingAndGlyphs" stroke="#8c8c8c" stroke-width="0.25">Operating Expenses</text>
<text x="1179.00" y="277" fill="#A64DF0" textLength="107.3" lengthAdjust="spacingAndGlyphs" stroke="#A64DF0" stroke-width="0.6">US$1.079b</text>
<text x="1293.10" y="277" fill="#8c8c8c" textLength="28.3" lengthAdjust="spacingAndGlyphs" stroke="#8c8c8c" stroke-width="0.25">/yr</text>
<text x="1179.90" y="173" fill="#fff" textLength="45.9" lengthAdjust="spacingAndGlyphs" stroke="#fff" stroke-width="0.6">0.5%</text>
<text x="1231.60" y="173" fill="#8c8c8c" textLength="132" lengthAdjust="spacingAndGlyphs" stroke="#8c8c8c" stroke-width="0.5">profit margin</text>
</g>
<g font-size="22.7">
<rect x="32" y="1036" width="164" height="64" rx="8" fill="#2c3039"/>
<circle cx="64" cy="1064" r="8" fill="#2394DF"/>
<text x="87.55" y="1072" fill="#fff" textLength="85.6" lengthAdjust="spacingAndGlyphs" stroke="#fff" stroke-width="0.5">Revenue</text>
<rect x="204" y="1036" width="166" height="64" rx="8" fill="#2c3039"/>
<circle cx="236" cy="1064" r="8" fill="#71E7D6"/>
<text x="259.40" y="1072" fill="#fff" textLength="86.5" lengthAdjust="spacingAndGlyphs" stroke="#fff" stroke-width="0.5">Earnings</text>
<rect x="378" y="1036" width="232" height="64" rx="8" fill="#2c3039"/>
<circle cx="410" cy="1064" r="8" fill="#C6448C"/>
<text x="433.20" y="1072" fill="#fff" textLength="153.25" lengthAdjust="spacingAndGlyphs" stroke="#fff" stroke-width="0.5">Free Cash Flow</text>
<rect x="618" y="1036" width="222" height="64" rx="8" fill="#2c3039"/>
<circle cx="650" cy="1064" r="8" fill="#EBB262"/>
<text x="674.10" y="1072" fill="#fff" textLength="143.55" lengthAdjust="spacingAndGlyphs" stroke="#fff" stroke-width="0.5">Cash From Op</text>
<rect x="848" y="1036" width="280" height="64" rx="8" fill="#2c3039"/>
<circle cx="880" cy="1064" r="8" fill="#A64DF0"/>
<text x="904.40" y="1072" fill="#fff" textLength="199.75" lengthAdjust="spacingAndGlyphs" stroke="#fff" stroke-width="0.5">Operating Expenses</text>
</g>
</g>
</svg>
</body></html>
